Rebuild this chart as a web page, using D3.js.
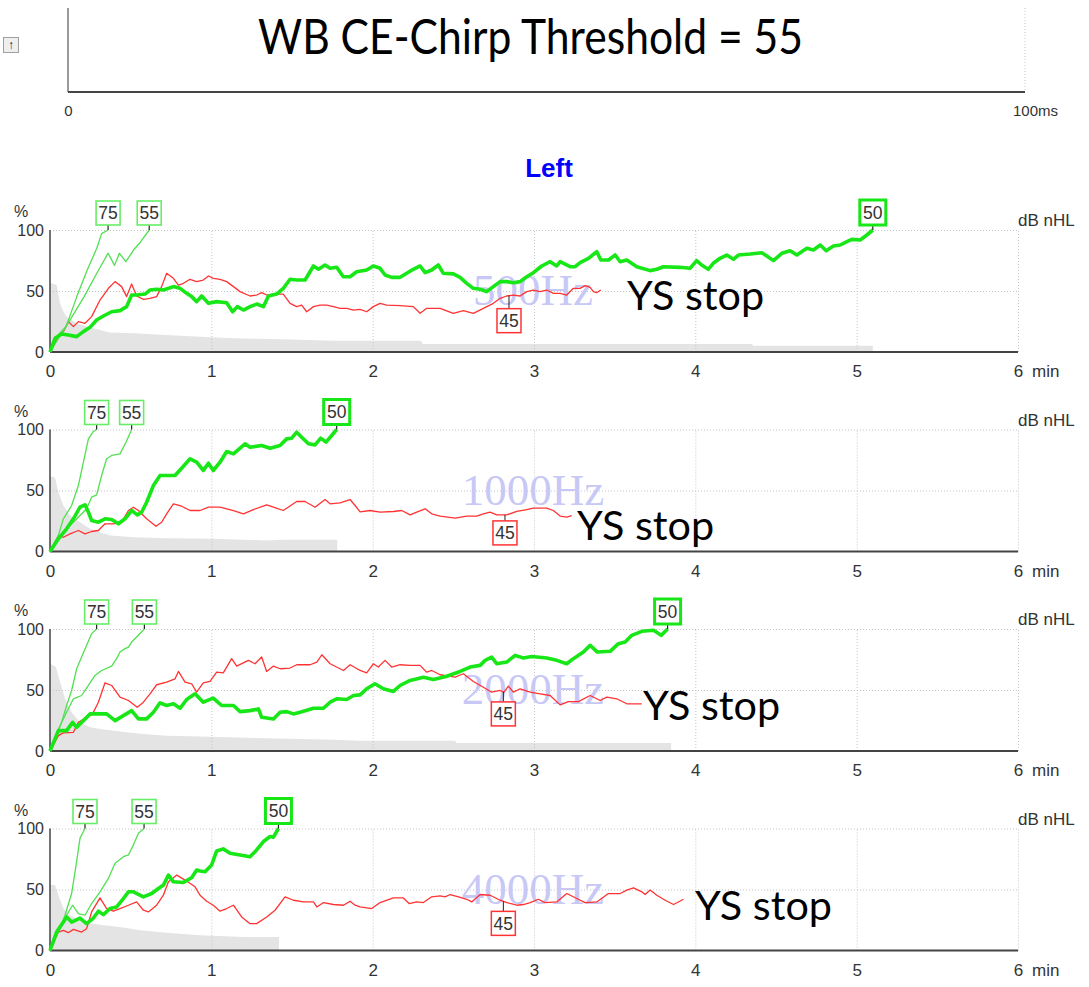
<!DOCTYPE html>
<html>
<head>
<meta charset="utf-8">
<script src="https://cdn.jsdelivr.net/npm/d3@7"></script>
<style>
  html, body { margin: 0; padding: 0; background: #fff; }
  svg { display: block; }
</style>
</head>
<body>
<svg id="chart" width="1089" height="987"></svg>
<script>
// ---- Axis ticks and labels ----
const minuteTicks = [0, 1, 2, 3, 4, 5, 6];
const percentTicks = [0, 50, 100];
const gridMinutes = [1, 2, 3, 4, 5, 6];
const gridPercents = [50, 100];
const msTicks = [0, 100];
const freqLabels = ["500Hz", "1000Hz", "2000Hz", "4000Hz"];
const levels = [75, 55, 50, 45];            // dB nHL of each stimulus series
const titleText = "WB CE-Chirp Threshold = 55";
const earLabel = "Left";
const stopLabel = "YS stop";

// ---- 500 Hz: [minutes, percent] ----
const hz500_75 = [[0,0],[0.05,14],[0.10,21],[0.165,45],[0.23,67],[0.29,85],[0.32,97],[0.36,100]];
const hz500_55 = [[0,0],[0.10,21],[0.21,45],[0.29,64.5],[0.36,81],[0.40,71],[0.43,81],[0.47,74],[0.52,84],[0.56,90],[0.615,100]];
const hz500_50 = [[0,0],[0.031,11.2],[0.072,14.8],[0.114,13.9],[0.165,12.6],[0.207,16.7],[0.248,20.2],[0.289,26.2],[0.331,29.5],[0.382,33],[0.434,33.9],[0.475,37.2],[0.506,46.7],[0.537,46.7],[0.589,47.5],[0.62,50.8],[0.661,51.4],[0.703,50.8],[0.765,53.6],[0.806,52.2],[0.847,48.1],[0.878,45.4],[0.909,41.3],[0.94,45.9],[0.982,39.9],[1.033,41.3],[1.095,40.4],[1.132,33],[1.161,37.2],[1.199,34.4],[1.24,37.2],[1.281,39.3],[1.323,37.2],[1.354,45.9],[1.405,47.5],[1.446,52.2],[1.488,59.6],[1.529,59],[1.581,59],[1.633,70.5],[1.664,67.8],[1.705,71.3],[1.736,68.6],[1.777,69.4],[1.818,61.7],[1.86,61.7],[1.901,65.8],[1.963,67.2],[2.004,70.5],[2.046,68.6],[2.077,63.1],[2.118,61.2],[2.17,61.2],[2.211,64.5],[2.252,67.8],[2.294,70.5],[2.325,65],[2.366,67.2],[2.407,71.3],[2.438,64.5],[2.5,64],[2.542,61.2],[2.583,56.3],[2.624,52.2],[2.666,51.4],[2.707,49.5],[2.748,53.6],[2.79,57.7],[2.831,57.7],[2.872,56.8],[2.914,57.7],[2.955,61.7],[2.996,65],[3.048,70.5],[3.1,74],[3.141,70.5],[3.162,74],[3.224,69.9],[3.255,69.9],[3.286,73.2],[3.338,76.8],[3.389,82.2],[3.414,75.4],[3.462,75.4],[3.503,79.5],[3.534,74],[3.575,75.4],[3.637,69.9],[3.72,66.7],[3.761,67.8],[3.802,69.9],[3.905,69.4],[3.967,68.6],[4.008,74.9],[4.039,71.3],[4.08,67.8],[4.111,72.7],[4.153,76.8],[4.195,79.5],[4.236,76],[4.267,79.5],[4.34,80.3],[4.412,81.4],[4.443,78.7],[4.484,74.9],[4.536,80.9],[4.588,83],[4.629,79.5],[4.691,85],[4.732,83.6],[4.774,87.7],[4.811,83],[4.856,86.9],[4.898,87.7],[4.939,90.4],[4.97,92.3],[5.022,91.8],[5.063,95.9],[5.1,100]];
const hz500_45 = [[0,0],[0.052,12.6],[0.083,16.7],[0.114,24.9],[0.145,20.8],[0.176,24.9],[0.217,23.5],[0.258,29],[0.31,42.6],[0.362,52.2],[0.403,57.7],[0.444,53.6],[0.475,45.4],[0.506,55.7],[0.537,45.9],[0.579,43.2],[0.62,44],[0.661,45.4],[0.692,53.6],[0.723,64.5],[0.765,60.4],[0.796,54.9],[0.827,56.3],[0.868,59.6],[0.909,57.7],[0.95,59],[0.982,62.3],[1.012,60.4],[1.054,59.6],[1.095,57.7],[1.137,53.6],[1.178,49.5],[1.24,45.9],[1.281,46.7],[1.312,48.6],[1.343,46.7],[1.385,47.5],[1.446,47.5],[1.488,39.9],[1.529,37.2],[1.56,38.5],[1.591,33],[1.633,37.2],[1.674,38.5],[1.715,38.5],[1.757,37.2],[1.798,35.8],[1.84,35.8],[1.881,34.4],[1.922,35],[1.963,33],[2.004,37.2],[2.046,39.9],[2.087,38.5],[2.17,38],[2.252,37.2],[2.294,31.7],[2.335,35.8],[2.418,35.8],[2.5,31.7],[2.562,33.9],[2.624,31.7],[2.686,35.8],[2.748,39.9],[2.79,44],[2.831,45.9],[2.872,46.7],[2.914,45.9],[2.955,49.5],[2.996,50.8],[3.038,49.5],[3.079,50.8],[3.12,48.1],[3.162,48.1],[3.203,46.7],[3.244,52.2],[3.286,52.2],[3.317,54.4],[3.348,53],[3.368,49.5],[3.389,48.6],[3.414,50.8]];
const hz500_noise = [[0,56.8],[0.041,54.9],[0.062,39.9],[0.083,33],[0.103,29],[0.135,26],[0.165,23.5],[0.227,20.8],[0.31,18],[0.37,16],[0.52,15.3],[0.72,13.9],[0.93,12.6],[1.137,11.2],[1.446,10.4],[1.757,9.3],[2.3,9.3],[2.31,6.6],[4.35,6.6],[4.36,5.2],[5.1,5.2]];

// ---- 1000 Hz ----
const hz1000_75 = [[0,0],[0.052,13.1],[0.083,26.8],[0.134,37.7],[0.176,54.1],[0.207,73.2],[0.238,92.3],[0.269,98.4],[0.289,100]];
const hz1000_55 = [[0,0],[0.062,13.1],[0.124,21.3],[0.186,29.5],[0.227,35],[0.258,44.5],[0.289,46.4],[0.32,62.3],[0.351,76],[0.382,78.7],[0.434,80],[0.471,89.6],[0.506,100]];
const hz1000_50 = [[0,0],[0.052,10.4],[0.103,18.6],[0.145,26.8],[0.186,36.3],[0.217,38.3],[0.238,32.2],[0.258,25.4],[0.3,24],[0.341,26.8],[0.382,26.2],[0.424,22.7],[0.465,26.8],[0.506,33.6],[0.541,30],[0.568,32.2],[0.599,40.4],[0.641,54.1],[0.682,62.3],[0.723,62.3],[0.775,62.3],[0.816,68.3],[0.868,76],[0.909,73.2],[0.95,66.4],[0.982,72.4],[1.012,66.4],[1.054,73.2],[1.095,82],[1.137,80],[1.209,88.3],[1.24,85.5],[1.312,86.9],[1.364,84.7],[1.426,86.9],[1.467,92.3],[1.498,92.9],[1.529,97.8],[1.56,93.7],[1.602,88.3],[1.643,87.4],[1.678,92.9],[1.711,89.6],[1.746,95.1],[1.777,100]];
const hz1000_45 = [[0,0],[0.052,13.1],[0.083,11.7],[0.124,14.5],[0.176,17.2],[0.217,14.5],[0.258,16.4],[0.3,17.2],[0.341,22.7],[0.393,22.7],[0.444,24],[0.486,33.6],[0.517,36.3],[0.548,33.6],[0.599,26.8],[0.657,20.7],[0.692,24],[0.723,30.9],[0.765,39.1],[0.816,37.1],[0.868,33.6],[0.93,33.6],[0.982,36.3],[1.054,36.3],[1.137,33.6],[1.199,30.9],[1.261,34.4],[1.343,38.3],[1.385,36.3],[1.446,33.6],[1.529,41],[1.581,41],[1.643,36.3],[1.705,42.6],[1.736,39.1],[1.798,39.9],[1.86,42.6],[1.891,37.7],[1.922,32.5],[1.984,33.6],[2.046,32.2],[2.128,32.8],[2.18,33.6],[2.232,30],[2.273,32.2],[2.325,35],[2.366,30.9],[2.418,29],[2.511,27.3],[2.583,29],[2.645,29],[2.686,30.9],[2.728,32.2],[2.769,30],[2.831,30],[2.893,32.8],[2.955,34.4],[2.996,35.5],[3.079,35.5],[3.12,33.6],[3.162,29],[3.203,28.1],[3.234,29.5]];
const hz1000_noise = [[0,61.5],[0.031,60.7],[0.052,48.6],[0.083,37.7],[0.124,29.5],[0.186,24],[0.248,18.6],[0.31,15.8],[0.372,13.1],[0.517,11.7],[0.723,10.9],[1.012,10.4],[1.343,9],[1.446,9.6],[1.78,9.6]];

// ---- 2000 Hz ----
const hz2000_75 = [[0,0],[0.041,12.6],[0.072,23.5],[0.103,37.3],[0.134,49.6],[0.165,67.4],[0.196,77],[0.227,86.6],[0.258,96.2],[0.289,100]];
const hz2000_55 = [[0,0],[0.052,18.1],[0.103,31.7],[0.145,42.8],[0.196,45.5],[0.238,53.7],[0.279,61.9],[0.32,66],[0.382,69.6],[0.413,75.7],[0.434,81.1],[0.465,83.9],[0.486,85.2],[0.506,89.3],[0.537,93.4],[0.585,100]];
const hz2000_50 = [[0,0],[0.052,16.7],[0.103,16.7],[0.14,23.5],[0.165,19.4],[0.207,24.9],[0.248,30.4],[0.279,30.4],[0.351,30.4],[0.403,24.9],[0.455,29],[0.506,33.1],[0.548,26.3],[0.599,26.3],[0.641,31.7],[0.682,39.5],[0.723,37.3],[0.765,38.7],[0.806,35],[0.847,42.2],[0.899,46.9],[0.95,40],[1.012,43.3],[1.064,37.3],[1.137,37.3],[1.178,32.3],[1.24,33.1],[1.292,34.5],[1.312,27.6],[1.385,26.3],[1.426,31.7],[1.467,32.3],[1.509,30.4],[1.55,31.7],[1.633,35],[1.695,35],[1.736,40],[1.777,42.8],[1.839,42.2],[1.881,45.5],[1.922,46],[1.963,51],[2.014,55.1],[2.066,51],[2.128,48.8],[2.17,53.7],[2.232,57.8],[2.315,60.5],[2.377,58.6],[2.459,61.3],[2.542,65.2],[2.604,68.8],[2.666,70.2],[2.697,74.3],[2.738,77],[2.769,71.5],[2.831,72.9],[2.883,78.4],[2.934,76.2],[2.986,77.5],[3.079,76.2],[3.141,74.3],[3.203,71.5],[3.244,75.7],[3.306,81.1],[3.348,86.6],[3.393,81.1],[3.472,81.7],[3.523,88],[3.565,89.3],[3.606,94.8],[3.668,98.1],[3.741,99],[3.788,94.8],[3.828,100]];
const hz2000_45 = [[0,0],[0.052,12.6],[0.083,14.8],[0.145,15.3],[0.176,23.5],[0.227,27.6],[0.264,30.4],[0.3,40],[0.341,55.9],[0.382,53.7],[0.434,44.1],[0.486,41.4],[0.541,35.9],[0.579,40],[0.62,46.9],[0.661,54.3],[0.723,56.4],[0.775,59.2],[0.796,65.2],[0.837,56.4],[0.878,55.1],[0.909,48.2],[0.95,55.9],[0.992,57],[1.033,64.6],[1.074,64],[1.126,75.7],[1.157,69.6],[1.23,74.3],[1.271,71.5],[1.312,77],[1.343,65.2],[1.385,69.6],[1.426,67.4],[1.488,68],[1.529,70.7],[1.612,70.7],[1.654,72.9],[1.685,78.9],[1.736,71.5],[1.819,66],[1.86,70.7],[1.922,66],[1.963,64.1],[2.004,71.5],[2.035,68.8],[2.077,74.3],[2.118,68.8],[2.17,70.7],[2.232,70.2],[2.294,70.2],[2.335,64.6],[2.366,66],[2.418,62.5],[2.511,60.5],[2.562,63.3],[2.624,57],[2.676,53.1],[2.738,48.2],[2.79,49.6],[2.814,48.2],[2.841,53.1],[2.872,48.2],[2.914,51],[2.976,48.2],[3.038,46.9],[3.1,45.5],[3.162,37.8],[3.213,40.5],[3.275,40.5],[3.348,45.5],[3.41,41.4],[3.451,44.1],[3.513,42.8],[3.575,38.7],[3.668,38.7]];
const hz2000_noise = [[0,71.5],[0.037,68.8],[0.062,57],[0.093,42.8],[0.134,31.7],[0.186,23.5],[0.248,19.4],[0.31,18.1],[0.475,15.3],[0.579,14],[0.723,12.6],[0.93,11.8],[1.343,10.4],[1.757,9.3],[1.922,8.5],[2.51,8.5],[2.52,6.5],[3.85,6.5]];

// ---- 4000 Hz ----
const hz4000_75 = [[0,0],[0.052,15.1],[0.093,28.9],[0.134,46.7],[0.165,72.8],[0.186,92.1],[0.217,100]];
const hz4000_55 = [[0,0],[0.062,19.2],[0.103,28.9],[0.14,37.1],[0.176,30.3],[0.217,28.9],[0.258,38.5],[0.31,48.1],[0.362,59.1],[0.403,71.5],[0.455,76.9],[0.486,78.3],[0.517,86.6],[0.548,96.2],[0.583,100]];
const hz4000_50 = [[0,0],[0.041,15.1],[0.083,23.3],[0.103,27.5],[0.134,23.3],[0.186,26.6],[0.227,22],[0.269,26.6],[0.3,32.2],[0.331,29.4],[0.372,34.4],[0.413,35.7],[0.455,42.6],[0.486,48.1],[0.517,48.1],[0.579,44],[0.63,46.7],[0.672,50.8],[0.703,53.6],[0.734,61.8],[0.765,56.3],[0.827,55.8],[0.878,59.6],[0.909,66],[0.93,65.2],[0.961,64.5],[1.002,70.1],[1.033,81.6],[1.074,83.3],[1.116,79.7],[1.178,78.3],[1.24,76.9],[1.281,82.4],[1.323,89.3],[1.364,93.4],[1.385,92.9],[1.416,100]];
const hz4000_45 = [[0,0],[0.052,15.1],[0.083,16.5],[0.114,14.6],[0.145,17.3],[0.196,15.1],[0.227,17.9],[0.258,31.6],[0.31,43.1],[0.351,34.4],[0.393,32.2],[0.434,34.4],[0.486,37.1],[0.537,39.8],[0.579,33],[0.61,31.6],[0.661,37.1],[0.703,45.3],[0.734,56.3],[0.786,61.8],[0.847,56.9],[0.899,52.2],[0.93,45.3],[0.971,40.4],[1.012,37.1],[1.054,32.2],[1.095,34.4],[1.137,37.1],[1.188,27.5],[1.24,22],[1.281,22],[1.343,27.5],[1.395,33],[1.457,44],[1.509,41.2],[1.571,39.8],[1.633,39.8],[1.654,35.7],[1.695,39.3],[1.757,37.7],[1.819,37.1],[1.86,40.4],[1.891,37.1],[1.922,35.7],[1.994,34.4],[2.046,39.3],[2.128,43.1],[2.19,43.1],[2.226,38.5],[2.273,39.8],[2.314,39.3],[2.366,44],[2.418,44.8],[2.449,44],[2.48,45.9],[2.532,44],[2.583,42],[2.614,39.8],[2.666,45.9],[2.728,45.3],[2.79,41.2],[2.831,39.3],[2.893,37.1],[2.934,37.7],[2.976,39.3],[3.027,42],[3.068,39.3],[3.141,39.8],[3.203,46.7],[3.265,42.6],[3.317,39.3],[3.389,39.8],[3.461,46.7],[3.534,46.7],[3.575,49.5],[3.617,51.4],[3.668,48.1],[3.689,45.9],[3.72,49.5],[3.761,45.3],[3.813,41.2],[3.865,37.7],[3.927,42]];
const hz4000_noise = [[0,53.6],[0.031,53.6],[0.052,45.3],[0.083,34.4],[0.124,28.9],[0.186,24.7],[0.269,22],[0.331,20.6],[0.434,19.2],[0.558,16.5],[0.723,14.6],[0.93,12.4],[1.199,11],[1.42,11]];

// Where the 45 dB marker sits (minutes) and where the stop note is anchored [minutes, percent]
const redMarkerAt = [2.845, 2.82, 2.81, 2.81];
const stopAnchor = [[3.577, 34.4], [3.267, 9.8], [3.676, 25.7], [3.998, 24.7]];

const panels = [
  { freq: freqLabels[0], s75: hz500_75,  s55: hz500_55,  s50: hz500_50,  s45: hz500_45,  noise: hz500_noise },
  { freq: freqLabels[1], s75: hz1000_75, s55: hz1000_55, s50: hz1000_50, s45: hz1000_45, noise: hz1000_noise },
  { freq: freqLabels[2], s75: hz2000_75, s55: hz2000_55, s50: hz2000_50, s45: hz2000_45, noise: hz2000_noise },
  { freq: freqLabels[3], s75: hz4000_75, s55: hz4000_55, s50: hz4000_50, s45: hz4000_45, noise: hz4000_noise }
];

// ---- Layout & style ----
const AXIS_FONT = "'Liberation Sans', Arial, sans-serif";
const COL = {
  thick: "#17e617", thin: "#52e052", boxThin: "#66ee66", red: "#ff3333",
  noise: "#e4e4e4", grid: "#c4c4c4", axis: "#444", text: "#333",
  mark: "#c8c8f6", blue: "#0000ff"
};
const svg = d3.select("#chart");
const x = d3.scaleLinear().domain([0, 6]).range([50, 1018]);
const intFmt = d3.format("d");

// ---- Top stimulus strip ----
const ms = d3.scaleLinear().domain([0, 100]).range([68, 1025]);
svg.append("line").attr("x1", ms(100)).attr("x2", ms(100)).attr("y1", 8).attr("y2", 92)
  .attr("stroke", COL.grid).attr("stroke-dasharray", "1,2");
svg.append("line").attr("x1", ms(0)).attr("x2", ms(0)).attr("y1", 8).attr("y2", 92)
  .attr("stroke", "#555").attr("stroke-width", 1.2);
svg.append("line").attr("x1", ms(0)).attr("x2", ms(100)).attr("y1", 92).attr("y2", 92)
  .attr("stroke", "#444").attr("stroke-width", 2);
const msAxis = svg.append("g").attr("transform", "translate(0,92)")
  .call(d3.axisBottom(ms).tickValues(msTicks).tickSize(0).tickPadding(13).tickFormat(intFmt));
msAxis.select(".domain").remove();
msAxis.selectAll("text").attr("font-family", AXIS_FONT).attr("font-size", 15).attr("fill", COL.text);
svg.append("text").attr("x", ms(100) + 13).attr("y", 92 + 13).attr("dy", "0.71em")
  .attr("font-family", AXIS_FONT).attr("font-size", 15).attr("fill", COL.text).text("ms");

// scroll button
svg.append("rect").attr("x", 3.5).attr("y", 37.5).attr("width", 15).attr("height", 15)
  .attr("fill", "#efefef").attr("stroke", "#a0a0a0");
svg.append("text").attr("x", 11).attr("y", 49).attr("text-anchor", "middle")
  .attr("font-family", AXIS_FONT).attr("font-size", 12).attr("fill", "#222").text("↑");

// title
svg.append("text").attr("x", 258).attr("y", 54)
  .attr("font-family", "Lato, 'Open Sans', sans-serif").attr("font-size", 48)
  .attr("textLength", 545).attr("lengthAdjust", "spacingAndGlyphs")
  .attr("fill", "#000").text(titleText);

// ear label
svg.append("text").attr("x", 549).attr("y", 177).attr("text-anchor", "middle")
  .attr("font-family", AXIS_FONT).attr("font-weight", "bold").attr("font-size", 26)
  .attr("fill", COL.blue).text(earLabel);

// value on a piecewise-linear series at time t
function valueAt(series, t) {
  const i = d3.bisector(d => d[0]).left(series, t);
  if (i <= 0) return series[0][1];
  if (i >= series.length) return series[series.length - 1][1];
  const a = series[i - 1], b = series[i];
  return a[1] + (b[1] - a[1]) * (t - a[0]) / (b[0] - a[0]);
}

function box(g, cx, yTop, label, stroke, sw, w, h) {
  g.append("rect").attr("x", cx - w / 2).attr("y", yTop).attr("width", w).attr("height", h)
    .attr("fill", "#fff").attr("stroke", stroke).attr("stroke-width", sw);
  g.append("text").attr("x", cx).attr("y", yTop + h / 2).attr("dy", "0.37em")
    .attr("text-anchor", "middle").attr("font-family", AXIS_FONT).attr("font-size", 17.5)
    .attr("fill", COL.text).text(label);
}

panels.forEach((p, i) => {
  const top = 230 + i * 199.5;
  const bottom = top + 122;
  const y = d3.scaleLinear().domain([0, 100]).range([bottom, top]);
  const g = svg.append("g");

  // residual noise
  g.append("path").datum(p.noise)
    .attr("d", d3.area().x(d => x(d[0])).y0(y(0)).y1(d => y(d[1])))
    .attr("fill", COL.noise);

  // grid
  const gx = g.append("g").attr("transform", `translate(0,${bottom})`)
    .call(d3.axisBottom(x).tickValues(gridMinutes).tickSize(-(bottom - top)).tickFormat(""));
  gx.select(".domain").remove();
  gx.selectAll("line").attr("stroke", COL.grid).attr("stroke-dasharray", "1,2");
  const gy = g.append("g").attr("transform", `translate(${x(0)},0)`)
    .call(d3.axisLeft(y).tickValues(gridPercents).tickSize(-(x(6) - x(0))).tickFormat(""));
  gy.select(".domain").remove();
  gy.selectAll("line").attr("stroke", COL.grid).attr("stroke-dasharray", "1,2");

  // frequency watermark
  g.append("text").attr("x", x(3) - 1).attr("y", bottom - 47).attr("text-anchor", "middle")
    .attr("font-family", "'Liberation Serif', 'Times New Roman', serif").attr("font-size", 45)
    .attr("fill", COL.mark).text(p.freq);

  // frame axes
  g.append("line").attr("x1", x(0)).attr("x2", x(6)).attr("y1", bottom).attr("y2", bottom)
    .attr("stroke", COL.axis).attr("stroke-width", 2);
  g.append("line").attr("x1", x(0)).attr("x2", x(0)).attr("y1", top).attr("y2", bottom)
    .attr("stroke", COL.axis).attr("stroke-width", 1.5);

  const line = d3.line().x(d => x(d[0])).y(d => y(d[1]));
  g.append("path").datum(p.s45).attr("d", line).attr("fill", "none")
    .attr("stroke", COL.red).attr("stroke-width", 1.3).attr("stroke-linejoin", "round");
  [p.s75, p.s55].forEach(s => g.append("path").datum(s).attr("d", line).attr("fill", "none")
    .attr("stroke", COL.thin).attr("stroke-width", 1.3).attr("stroke-linejoin", "round"));
  g.append("path").datum(p.s50).attr("d", line).attr("fill", "none")
    .attr("stroke", COL.thick).attr("stroke-width", 3.6).attr("stroke-linejoin", "round");

  // level markers at the end of each green series
  [[p.s75, levels[0], COL.boxThin, 1.6, 24, 24], [p.s55, levels[1], COL.boxThin, 1.6, 24, 24],
   [p.s50, levels[2], COL.thick, 3, 26, 25]].forEach(([s, lv, col, sw, w, h]) => {
    const end = s[s.length - 1];
    const cx = x(end[0]);
    g.append("line").attr("x1", cx).attr("x2", cx).attr("y1", y(end[1]) - 5).attr("y2", y(end[1]))
      .attr("stroke", "#222").attr("stroke-width", 1.2);
    box(g, cx, y(end[1]) - 5 - h, lv, col, sw, w, h);
  });

  // 45 dB marker below the red series
  const mt = redMarkerAt[i];
  const mx = x(mt), my = y(valueAt(p.s45, mt));
  const gap = [13, 6, 10, 10][i];
  g.append("line").attr("x1", mx).attr("x2", mx).attr("y1", my).attr("y2", my + gap)
    .attr("stroke", "#222").attr("stroke-width", 1);
  box(g, mx, my + gap, levels[3], COL.red, 1.5, 24, 24);

  // tick labels
  const ay = g.append("g").attr("transform", `translate(${x(0)},0)`)
    .call(d3.axisLeft(y).tickValues(percentTicks).tickSize(0).tickPadding(6).tickFormat(intFmt));
  ay.select(".domain").remove();
  ay.selectAll("text").attr("font-family", AXIS_FONT).attr("font-size", 16).attr("fill", COL.text);
  const ax = g.append("g").attr("transform", `translate(0,${bottom})`)
    .call(d3.axisBottom(x).tickValues(minuteTicks).tickSize(0).tickPadding(13).tickFormat(intFmt));
  ax.select(".domain").remove();
  ax.selectAll("text").attr("font-family", AXIS_FONT).attr("font-size", 17).attr("fill", COL.text);
  g.append("text").attr("x", x(6) + 14).attr("y", bottom + 13).attr("dy", "0.71em")
    .attr("font-family", AXIS_FONT).attr("font-size", 17).attr("fill", COL.text).text("min");
  g.append("text").attr("x", 14).attr("y", top - 13)
    .attr("font-family", AXIS_FONT).attr("font-size", 16).attr("fill", COL.text).text("%");
  g.append("text").attr("x", x(6)).attr("y", top - 4)
    .attr("font-family", AXIS_FONT).attr("font-size", 17).attr("fill", COL.text).text("dB nHL");

  // stop note
  const sa = stopAnchor[i];
  g.append("text").attr("x", x(sa[0])).attr("y", y(sa[1]))
    .attr("font-family", "Lato, 'Open Sans', sans-serif").attr("font-size", 41)
    .attr("textLength", 137).attr("lengthAdjust", "spacingAndGlyphs")
    .attr("fill", "#000").text(stopLabel);
});
</script>
</body>
</html>
